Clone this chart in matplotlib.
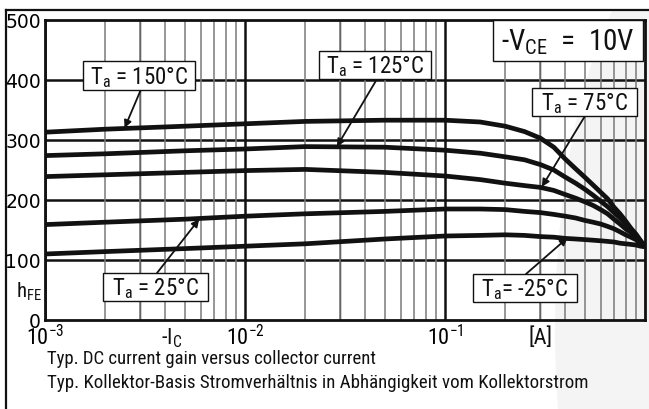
import matplotlib
matplotlib.use('Agg')
import matplotlib.pyplot as plt
from matplotlib.patches import Rectangle, Ellipse
from matplotlib.lines import Line2D
from matplotlib.ticker import LogLocator, NullFormatter

# ---------------- data ----------------
current_A = [0.001, 0.002, 0.005, 0.01, 0.02, 0.05, 0.1, 0.15, 0.2, 0.25, 0.3,
             0.35, 0.4, 0.45, 0.5, 0.55, 0.6, 0.65, 0.7, 0.75, 0.8, 0.85, 0.9,
             0.95, 1.0]
hfe_150 = [313, 318, 323, 327, 331, 333, 333, 330, 323, 314, 303, 288, 268,
           252, 238, 225, 213, 202, 188, 177, 165, 153, 143, 132, 122]
hfe_125 = [274, 277, 282, 285, 289, 288, 283, 278, 272, 267, 259, 250, 238,
           228, 218, 208, 198, 189, 179, 170, 161, 152, 143, 132, 122]
hfe_75 = [239, 242, 246, 249, 251, 246, 240, 234, 228, 224, 221, 216, 209,
          203, 197, 191, 184, 177, 168, 160, 152, 146, 140, 131, 122]
hfe_25 = [159, 163, 168, 173, 177, 181, 185, 185, 184, 181, 179, 176, 173,
          170, 166, 163, 160, 156, 152, 147, 142, 138, 134, 128, 122]
hfe_m25 = [110, 114, 119, 123, 127, 135, 140, 141, 142, 141, 139, 138, 136,
           135, 134, 133, 132, 131, 130, 128, 127, 126, 125, 123, 122]

series = [hfe_150, hfe_125, hfe_75, hfe_25, hfe_m25]
temp_labels = ['T$_\\mathregular{a}$ = 150°C', 'T$_\\mathregular{a}$ = 125°C',
               'T$_\\mathregular{a}$ = 75°C', 'T$_\\mathregular{a}$ = 25°C',
               'T$_\\mathregular{a}$= -25°C']
# arrow tips on curves (current, hFE)
arrow_tips = [(0.0025, 320), (0.0288, 289), (0.305, 222), (0.0059, 168), (0.41, 137)]

y_ticks = [0, 100, 200, 300, 400, 500]
x_ticks = [1e-3, 1e-2, 1e-1]
x_ticklabels = ['10$^{\\mathregular{-3}}$', '10$^{\\mathregular{-2}}$', '10$^{\\mathregular{-1}}$']

W, H = 649, 410
NARROW = ['DejaVu Sans Condensed', 'Roboto Condensed', 'Open Sans Condensed',
          'DejaVu Sans']
COND = dict(family=NARROW, fontstretch='condensed')

fig = plt.figure(figsize=(W / 100, H / 100), dpi=100)
fig.patch.set_facecolor('white')


def fp(x, y):
    return (x / W, 1 - y / H)


# faint watermark on the right
wm = Ellipse(fp(700, 330), 290 / W, 800 / H, transform=fig.transFigure,
             facecolor='#f4f4f4', edgecolor='none', zorder=-5)
fig.add_artist(wm)
clip = Rectangle((0, 0), 1, 1 - 11 / H, transform=fig.transFigure)
wm.set_clip_path(clip)

# outer frame
fig.add_artist(Line2D([6 / W, 6 / W], [0, 1 - 11 / H], color='#111111', lw=1.6,
                      transform=fig.transFigure))
fig.add_artist(Line2D([6 / W, 1], [1 - 11 / H, 1 - 11 / H], color='#111111', lw=1.6,
                      transform=fig.transFigure))

ax = fig.add_axes([45 / W, 1 - 321 / H, 600 / W, 300 / H])
ax.patch.set_alpha(0)
ax.set_xscale('log')
ax.set_xlim(1e-3, 1)
ax.set_ylim(0, 500)

# grid
ax.xaxis.set_minor_locator(LogLocator(base=10, subs=range(2, 10)))
ax.xaxis.set_minor_formatter(NullFormatter())
ax.grid(which='minor', axis='x', color='#7a7a7a', lw=1.1, zorder=1)
for dec in x_ticks:
    ax.axvline(dec * 3, color='#222222', lw=1.0, zorder=1.2)
    ax.axvline(dec, color='#111111', lw=1.8, zorder=1.5)
for yv in y_ticks[1:-1]:
    ax.axhline(yv, color='#111111', lw=1.8, zorder=1.5)

for s in ax.spines.values():
    s.set_linewidth(2.0)
    s.set_color('#111111')

for vals in series:
    ax.plot(current_A, vals, color='#111111', lw=3.4, solid_capstyle='butt',
            solid_joinstyle='round', zorder=3)

ax.set_yticks(y_ticks)
ax.set_yticklabels([str(v) for v in y_ticks], fontsize=13.5, family='DejaVu Sans')
ax.tick_params(axis='y', length=0, pad=3)
ax.set_xticks(x_ticks)
ax.set_xticklabels(x_ticklabels, fontsize=16, **COND)
ax.tick_params(axis='x', which='both', length=0, pad=3)

# annotation boxes (pixel geometry)
boxes = [(83, 62, 195, 91), (319, 52, 431, 80), (532, 89, 637, 117),
         (103, 274, 208, 302), (473, 275, 577, 303)]
arrow_starts = [(142, 88), (377, 80), (585, 117), (157, 274), (526, 275)]
for (x0, y0, x1, y1), lab, st, tip in zip(boxes, temp_labels, arrow_starts, arrow_tips):
    fig.add_artist(Rectangle(fp(x0, y1), (x1 - x0) / W, (y1 - y0) / H,
                             transform=fig.transFigure, facecolor='white',
                             edgecolor='#111111', lw=1.0, zorder=5))
    fig.text(*fp((x0 + x1) / 2, (y0 + y1) / 2 + 1), lab, ha='center', va='center',
             fontsize=16.5, color='#111111', zorder=6, **COND)
    ax.annotate('', xy=tip, xycoords='data', xytext=fp(*st),
                textcoords='figure fraction',
                arrowprops=dict(arrowstyle='-|>', color='#111111', lw=1.3,
                                mutation_scale=11, shrinkA=0, shrinkB=0),
                zorder=6, annotation_clip=False)

# -V_CE box
fig.add_artist(Rectangle(fp(493, 62), 150 / W, 41 / H, transform=fig.transFigure,
                         facecolor='white', edgecolor='#111111', lw=1.0, zorder=5))
fig.text(*fp(568, 42), '-V$_\\mathregular{CE}$  =  10V', ha='center', va='center',
         fontsize=21, color='#111111', zorder=6, **COND)

# axis labels
fig.text(*fp(29, 292), 'h$_\\mathregular{FE}$', ha='center', va='center',
         fontsize=15, color='#111111', **COND)
fig.text(*fp(172, 338), '-I$_\\mathregular{C}$', ha='center', va='center',
         fontsize=16, color='#111111', **COND)
fig.text(*fp(541, 338), '[A]', ha='center', va='center',
         fontsize=16, color='#111111', **COND)

# captions
fig.text(*fp(47, 359), 'Typ. DC current gain versus collector current',
         ha='left', va='center', fontsize=13.5, color='#111111', **COND)
fig.text(*fp(47, 383), 'Typ. Kollektor-Basis Stromverhältnis in Abhängigkeit vom Kollektorstrom',
         ha='left', va='center', fontsize=13.6, color='#111111', **COND)

fig.savefig('out.png', dpi=100)
